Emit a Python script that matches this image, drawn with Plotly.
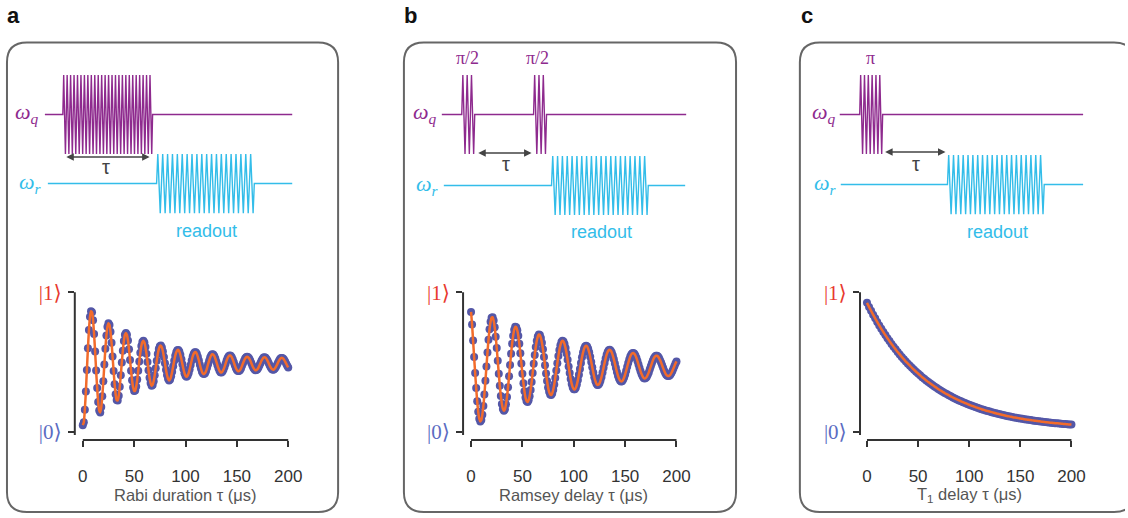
import plotly.graph_objects as go

W, H = 1128, 518

# ---------------- data ----------------
rabi_t = list(range(0, 201))
rabi_p = [
    0.050, 0.070, 0.160, 0.290, 0.445, 0.600, 0.730, 0.825, 0.865, 0.858,
    0.801, 0.702, 0.577, 0.441, 0.315, 0.215, 0.154, 0.141, 0.179, 0.257,
    0.364, 0.483, 0.597, 0.692, 0.754, 0.779, 0.767, 0.718, 0.639, 0.541,
    0.438, 0.343, 0.271, 0.229, 0.227, 0.261, 0.324, 0.407, 0.498, 0.583,
    0.652, 0.696, 0.710, 0.696, 0.655, 0.592, 0.516, 0.439, 0.371, 0.320,
    0.294, 0.297, 0.326, 0.376, 0.439, 0.506, 0.567, 0.616, 0.644, 0.654,
    0.642, 0.609, 0.560, 0.501, 0.442, 0.389, 0.351, 0.332, 0.338, 0.364,
    0.406, 0.457, 0.510, 0.558, 0.594, 0.614, 0.619, 0.606, 0.577, 0.537,
    0.492, 0.447, 0.408, 0.382, 0.370, 0.377, 0.399, 0.432, 0.471, 0.511,
    0.546, 0.571, 0.586, 0.588, 0.577, 0.553, 0.522, 0.486, 0.451, 0.422,
    0.403, 0.396, 0.403, 0.421, 0.448, 0.480, 0.512, 0.541, 0.561, 0.572,
    0.572, 0.560, 0.539, 0.512, 0.482, 0.455, 0.432, 0.419, 0.415, 0.422,
    0.437, 0.460, 0.486, 0.511, 0.533, 0.549, 0.557, 0.555, 0.545, 0.527,
    0.504, 0.480, 0.458, 0.440, 0.429, 0.427, 0.434, 0.448, 0.467, 0.490,
    0.512, 0.530, 0.543, 0.549, 0.546, 0.536, 0.519, 0.499, 0.478, 0.459,
    0.445, 0.437, 0.437, 0.443, 0.456, 0.474, 0.493, 0.511, 0.526, 0.536,
    0.540, 0.536, 0.527, 0.512, 0.495, 0.477, 0.461, 0.450, 0.443, 0.444,
    0.450, 0.462, 0.478, 0.495, 0.511, 0.524, 0.533, 0.535, 0.532, 0.522,
    0.508, 0.492, 0.476, 0.462, 0.452, 0.447, 0.448, 0.455, 0.466, 0.481,
    0.497, 0.511, 0.523, 0.530, 0.531, 0.527, 0.517, 0.505, 0.490, 0.475,
    0.463,
]

ramsey_t = list(range(0, 201))
ramsey_p = [
    0.860, 0.770, 0.655, 0.537, 0.423, 0.315, 0.220, 0.145, 0.096, 0.076,
    0.086, 0.124, 0.187, 0.270, 0.367, 0.469, 0.570, 0.661, 0.736, 0.790,
    0.819, 0.822, 0.799, 0.750, 0.683, 0.601, 0.510, 0.418, 0.332, 0.259,
    0.202, 0.166, 0.153, 0.164, 0.199, 0.252, 0.321, 0.399, 0.481, 0.561,
    0.633, 0.690, 0.732, 0.753, 0.751, 0.729, 0.689, 0.632, 0.564, 0.491,
    0.418, 0.350, 0.292, 0.248, 0.223, 0.215, 0.228, 0.257, 0.302, 0.359,
    0.423, 0.489, 0.552, 0.609, 0.654, 0.684, 0.698, 0.694, 0.674, 0.639,
    0.593, 0.537, 0.478, 0.419, 0.366, 0.320, 0.288, 0.269, 0.265, 0.277,
    0.303, 0.341, 0.388, 0.440, 0.493, 0.544, 0.588, 0.622, 0.645, 0.653,
    0.648, 0.630, 0.601, 0.562, 0.517, 0.469, 0.423, 0.380, 0.345, 0.320,
    0.307, 0.306, 0.317, 0.340, 0.372, 0.410, 0.452, 0.495, 0.535, 0.569,
    0.596, 0.613, 0.618, 0.613, 0.596, 0.571, 0.539, 0.502, 0.464, 0.427,
    0.393, 0.366, 0.347, 0.338, 0.339, 0.349, 0.369, 0.395, 0.427, 0.461,
    0.495, 0.527, 0.554, 0.574, 0.586, 0.589, 0.583, 0.569, 0.548, 0.521,
    0.491, 0.460, 0.431, 0.404, 0.383, 0.369, 0.363, 0.364, 0.374, 0.391,
    0.413, 0.439, 0.467, 0.494, 0.519, 0.541, 0.556, 0.564, 0.566, 0.560,
    0.548, 0.530, 0.508, 0.483, 0.459, 0.435, 0.415, 0.399, 0.388, 0.384,
    0.387, 0.395, 0.410, 0.427, 0.449, 0.471, 0.492, 0.512, 0.529, 0.540,
    0.546, 0.546, 0.541, 0.530, 0.515, 0.498, 0.478, 0.458, 0.439, 0.423,
    0.411, 0.404, 0.401, 0.404, 0.411, 0.423, 0.438, 0.455, 0.473, 0.491,
    0.506,
]

t1_t = list(range(0, 201, 2))
t1_p = [
    0.925, 0.896, 0.868, 0.840, 0.814, 0.788, 0.763, 0.739, 0.716, 0.694,
    0.672, 0.651, 0.631, 0.611, 0.592, 0.573, 0.556, 0.538, 0.522, 0.505,
    0.490, 0.475, 0.460, 0.446, 0.432, 0.419, 0.406, 0.393, 0.381, 0.370,
    0.358, 0.348, 0.337, 0.327, 0.317, 0.307, 0.298, 0.289, 0.280, 0.272,
    0.264, 0.256, 0.248, 0.241, 0.234, 0.227, 0.220, 0.214, 0.208, 0.202,
    0.196, 0.190, 0.185, 0.179, 0.174, 0.169, 0.164, 0.160, 0.155, 0.151,
    0.147, 0.143, 0.139, 0.135, 0.131, 0.128, 0.124, 0.121, 0.117, 0.114,
    0.111, 0.108, 0.105, 0.103, 0.100, 0.097, 0.095, 0.092, 0.090, 0.088,
    0.086, 0.084, 0.082, 0.080, 0.078, 0.076, 0.074, 0.072, 0.071, 0.069,
    0.067, 0.066, 0.064, 0.063, 0.062, 0.060, 0.059, 0.058, 0.056, 0.055,
    0.054,
]

x_tick_vals = [0, 50, 100, 150, 200]
y_tick_vals = [0, 1]
y_tick_text = ["|0⟩", "|1⟩"]
x_titles = ["Rabi duration τ (μs)", "Ramsey delay τ (μs)", "T<sub>1</sub> delay τ (μs)"]
panel_letters = ["a", "b", "c"]
pulse_labels = [[], ["π/2", "π/2"], ["π"]]

# ---------------- styles / layout geometry ----------------
MARKER = "#5457a7"
FIT = "#f26b2b"
PURPLE = "#8e2a8e"
CYAN = "#33bde9"
RED = "#e8392e"
BLUE = "#5b6cc2"
AXIS = "#333333"
BOX = "#666666"
SANS = "Liberation Sans, Arial, sans-serif"
SERIF = "Liberation Serif, DejaVu Serif, serif"

# plot geometry in pixels: y-axis x position, pixel of x=0, pixel of x=200, right edge
PLOTS = [
    dict(axis_x=75.0, x0px=83.0, x200px=289.0, right=300.0),
    dict(axis_x=464.3, x0px=472.3, x200px=678.3, right=690.0),
    dict(axis_x=862.3, x0px=869.3, x200px=1074.3, right=1086.0),
]
Y1PX, Y0PX, BOTTOM, TOP = 293.3, 435.0, 443.0, 285.0
TITLE_Y = 499
BOXES = [(7, 339), (405, 738), (802, 1137)]
BOX_TOP, BOX_BOT, RAD = 40, 516, 20

SCHEMES = [
    dict(q=(45, 293, 113), qp=[(63, 153, 26)], r=(48, 293, 183), rp=(157, 255, 20),
         wq=(41, 112), wr=(44, 182), arrow=(65, 150, 156), tau=(106, 166),
         readout=(207, 231), labs=[]),
    dict(q=(443, 688, 113), qp=[(463, 476, 3), (535, 548, 3)], r=(445, 687, 185),
         rp=(553, 650, 20), wq=(440, 112), wr=(442, 184), arrow=(478, 533, 152),
         tau=(507, 163), readout=(603, 232), labs=[(469, 56), (539, 56)]),
    dict(q=(842, 1086, 113), qp=[(862, 885, 6)], r=(843, 1086, 184), rp=(950, 1047, 20),
         wq=(840, 112), wr=(841, 183), arrow=(886, 948, 151), tau=(918, 163),
         readout=(1000, 232), labs=[(873, 56)]),
]
QAMP, RAMP = 40, 30


def zigzag(x0, x1, yb, amp, n):
    xs, ys = [x0], [yb]
    half = (x1 - x0) / (2 * n)
    for k in range(2 * n):
        xs.append(x0 + half * (k + 0.5))
        ys.append(yb - amp if k % 2 == 0 else yb + amp)
    xs.append(x1)
    ys.append(yb)
    return xs, ys


fig = go.Figure()
series = [(rabi_t, rabi_p), (ramsey_t, ramsey_p), (t1_t, t1_p)]
shapes = []
annotations = []

for i, ((tx, ty), g) in enumerate(zip(series, PLOTS)):
    n = "" if i == 0 else str(i + 1)
    xa, ya = "x" + n, "y" + n
    fig.add_trace(go.Scatter(x=tx, y=ty, mode="markers", xaxis=xa, yaxis=ya,
                             marker=dict(size=8, color=MARKER), cliponaxis=False,
                             hoverinfo="skip"))
    fig.add_trace(go.Scatter(x=tx, y=ty, mode="lines", xaxis=xa, yaxis=ya,
                             line=dict(color=FIT, width=2.5, shape="spline", smoothing=0.6),
                             hoverinfo="skip"))
    s = (g["x200px"] - g["x0px"]) / 200.0
    sy = Y0PX - Y1PX
    fig.layout["xaxis" + n] = dict(
        domain=[g["axis_x"] / W, g["right"] / W],
        range=[(g["axis_x"] - g["x0px"]) / s, (g["right"] - g["x0px"]) / s],
        anchor=ya, showgrid=False, zeroline=False, showline=False,
        tickvals=x_tick_vals, ticks="outside", ticklen=6, tickwidth=2, tickcolor=AXIS,
        tickfont=dict(family=SANS, size=17, color=AXIS), ticklabelstandoff=15,
        fixedrange=True)
    fig.layout["yaxis" + n] = dict(
        domain=[1 - BOTTOM / H, 1 - TOP / H],
        range=[(Y0PX - BOTTOM) / sy, (Y0PX - TOP) / sy],
        anchor=xa, showgrid=False, zeroline=False, showline=False,
        tickvals=y_tick_vals,
        ticktext=[f"<span style='color:{c}'>{t}</span>" for t, c in zip(y_tick_text, [BLUE, RED])],
        ticks="outside", ticklen=6, tickwidth=2, tickcolor=AXIS,
        tickfont=dict(family=SERIF, size=21), ticklabelstandoff=2, fixedrange=True)
    # detached spines
    shapes.append(dict(type="line", xref=xa, yref=ya + " domain", x0=0, x1=200, y0=0, y1=0,
                       line=dict(color=AXIS, width=2)))
    shapes.append(dict(type="line", xref=xa + " domain", yref=ya, x0=0, x1=0, y0=-0.02, y1=1,
                       line=dict(color=AXIS, width=2)))
    annotations.append(dict(text=x_titles[i], xref=xa, yref="paper", x=100,
                            y=1 - TITLE_Y / H, xanchor="center", yanchor="middle",
                            showarrow=False, borderpad=0,
                            font=dict(family=SANS, size=16.5, color="#555555")))

# overlay axis in pixel coordinates for the schematics and frames
fig.layout["xaxis4"] = dict(domain=[0, 1], range=[0, W], visible=False, fixedrange=True, anchor="y4")
fig.layout["yaxis4"] = dict(domain=[0, 1], range=[H, 0], visible=False, fixedrange=True, anchor="x4")

for i, sc in enumerate(SCHEMES):
    # qubit drive line
    qx0, qx1, qy = sc["q"]
    xs, ys = [qx0], [qy]
    for (a, b, nc) in sc["qp"]:
        zx, zy = zigzag(a, b, qy, QAMP, nc)
        xs += zx
        ys += zy
    xs.append(qx1)
    ys.append(qy)
    fig.add_trace(go.Scatter(x=xs, y=ys, mode="lines", xaxis="x4", yaxis="y4",
                             line=dict(color=PURPLE, width=1.4), hoverinfo="skip"))
    # readout line
    rx0, rx1, ry = sc["r"]
    a, b, nc = sc["rp"]
    zx, zy = zigzag(a, b, ry, RAMP, nc)
    fig.add_trace(go.Scatter(x=[rx0] + zx + [rx1], y=[ry] + zy + [ry], mode="lines",
                             xaxis="x4", yaxis="y4",
                             line=dict(color=CYAN, width=1.4), hoverinfo="skip"))
    # labels
    annotations.append(dict(text="<i>ω<sub>q</sub></i>", xref="x4", yref="y4",
                            x=sc["wq"][0], y=sc["wq"][1], xanchor="right", yanchor="middle",
                            showarrow=False, font=dict(family=SERIF, size=22, color=PURPLE)))
    annotations.append(dict(text="<i>ω<sub>r</sub></i>", xref="x4", yref="y4",
                            x=sc["wr"][0], y=sc["wr"][1], xanchor="right", yanchor="middle",
                            showarrow=False, font=dict(family=SERIF, size=22, color=CYAN)))
    ax0, ax1, ay = sc["arrow"]
    annotations.append(dict(text="", xref="x4", yref="y4", axref="x4", ayref="y4",
                            x=ax1, y=ay, ax=ax0, ay=ay, showarrow=True, arrowhead=2,
                            arrowside="end+start", arrowsize=1, arrowwidth=1.5,
                            arrowcolor="#444444", standoff=0, startstandoff=0))
    annotations.append(dict(text="τ", xref="x4", yref="y4", x=sc["tau"][0], y=sc["tau"][1],
                            xanchor="center", yanchor="middle", showarrow=False,
                            font=dict(family=SANS, size=20, color="#444444")))
    annotations.append(dict(text="readout", xref="x4", yref="y4",
                            x=sc["readout"][0], y=sc["readout"][1],
                            xanchor="center", yanchor="middle", showarrow=False,
                            font=dict(family=SANS, size=18, color=CYAN)))
    for lab, (lx, ly) in zip(pulse_labels[i], sc["labs"]):
        annotations.append(dict(text=lab, xref="x4", yref="y4", x=lx, y=ly,
                                xanchor="center", yanchor="middle", showarrow=False,
                                font=dict(family=SERIF, size=18, color=PURPLE)))
    # frame
    x0, x1 = BOXES[i]
    y0, y1 = BOX_TOP, BOX_BOT
    r = RAD
    path = (f"M {x0 + r},{y0} L {x1 - r},{y0} Q {x1},{y0} {x1},{y0 + r} "
            f"L {x1},{y1 - r} Q {x1},{y1} {x1 - r},{y1} L {x0 + r},{y1} "
            f"Q {x0},{y1} {x0},{y1 - r} L {x0},{y0 + r} Q {x0},{y0} {x0 + r},{y0} Z")
    shapes.append(dict(type="path", xref="x4", yref="y4", path=path,
                       line=dict(color=BOX, width=2)))
    # panel letter
    annotations.append(dict(text=f"<b>{panel_letters[i]}</b>", xref="x4", yref="y4",
                            x=BOXES[i][0] + 7, y=13, xanchor="center", yanchor="middle",
                            showarrow=False, font=dict(family=SANS, size=22, color="#111111")))

fig.update_layout(width=W, height=H, margin=dict(l=0, r=0, t=0, b=0),
                  paper_bgcolor="white", plot_bgcolor="rgba(0,0,0,0)",
                  showlegend=False, shapes=shapes, annotations=annotations)

fig.write_html("out.html")
